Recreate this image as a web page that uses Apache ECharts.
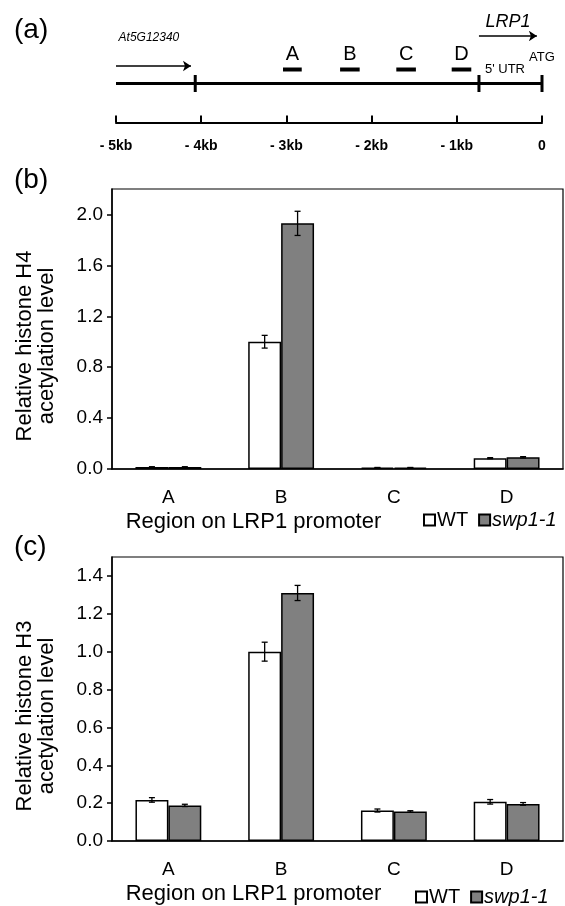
<!DOCTYPE html>
<html>
<head>
<meta charset="utf-8">
<script src="https://cdn.jsdelivr.net/npm/echarts@6/dist/echarts.min.js"></script>
<style>
  html, body { margin: 0; padding: 0; background: #fff; }
  #chart { width: 565px; height: 906px; }
</style>
</head>
<body>
<div id="chart"></div>
<script>
// (a) promoter map, kb relative to the LRP1 ATG
const scaleTicksKb = [-5, -4, -3, -2, -1, 0];
const scaleLabels = ['- 5kb', '- 4kb', '- 3kb', '- 2kb', '- 1kb', '0'];
const regionNames = ['A', 'B', 'C', 'D'];
const regionStartKb = [-3.04, -2.37, -1.71, -1.06];
const regionEndKb = [-2.82, -2.14, -1.48, -0.83];
const boundaryKb = [-4.07, -0.74, 0];
const upstreamGeneKb = [-5, -4.12];
const lrp1ArrowKb = [-0.74, -0.06];

// (b) H4 and (c) H3 acetylation
const categories = ['A', 'B', 'C', 'D'];
const h4Wt = [0.015, 1.0, 0.01, 0.085];
const h4WtErr = [0.003, 0.05, 0.002, 0.004];
const h4Swp = [0.015, 1.93, 0.01, 0.092];
const h4SwpErr = [0.003, 0.095, 0.002, 0.005];
const h3Wt = [0.217, 1.0, 0.161, 0.207];
const h3WtErr = [0.012, 0.05, 0.008, 0.012];
const h3Swp = [0.188, 1.31, 0.156, 0.196];
const h3SwpErr = [0.006, 0.04, 0.004, 0.007];

const FONT = "'Liberation Sans', Arial, sans-serif";
const BAR_FRAC = 0.292;
// vertical track levels in the map panel
const LV = { line: 0.39, region: 0.53, regionLabel: 0.685, geneArrow: 0.565, geneLabel: 0.845,
             lrpArrow: 0.865, lrpLabel: 1.01, utr: 0.53, atg: 0.65 };

const chart = echarts.init(document.getElementById('chart'));

function errRows(vals, errs, slot) {
  return vals.map((v, i) => [i, v, errs[i], slot]);
}

function errorBarItem(params, api) {
  const i = api.value(0), v = api.value(1), e = api.value(2), slot = api.value(3);
  const band = api.size([1, 0])[0];
  const dx = (slot === 0 ? -1 : 1) * band * BAR_FRAC / 2;
  const top = api.coord([i, v + e]);
  const bot = api.coord([i, v - e]);
  const x = top[0] + dx;
  const st = { stroke: '#000', lineWidth: 1.3 };
  return {
    type: 'group',
    children: [
      { type: 'line', shape: { x1: x, y1: top[1], x2: x, y2: bot[1] }, style: st },
      { type: 'line', shape: { x1: x - 3, y1: top[1], x2: x + 3, y2: top[1] }, style: st },
      { type: 'line', shape: { x1: x - 3, y1: bot[1], x2: x + 3, y2: bot[1] }, style: st }
    ]
  };
}

function textItem(txt, kb, level, opts) {
  return Object.assign({ txt: txt, kb: kb, level: level }, opts);
}

const mapTexts = [
  textItem('At5G12340', upstreamGeneKb[0] + 0.03, LV.geneLabel, { size: 12, italic: true, align: 'left' }),
  textItem('LRP1', (lrp1ArrowKb[0] + lrp1ArrowKb[1]) / 2, LV.lrpLabel, { size: 18, italic: true, align: 'center' }),
  textItem("5' UTR", boundaryKb[1] + 0.07, LV.utr, { size: 13, italic: false, align: 'left' }),
  textItem('ATG', boundaryKb[2], LV.atg, { size: 13, italic: false, align: 'center' })
];

function barAxisX(gi) {
  return {
    type: 'category', gridIndex: gi, data: categories,
    axisLine: { lineStyle: { color: '#000', width: 1.5 } },
    axisTick: { length: 6, lineStyle: { color: '#000', width: 1.5 } },
    axisLabel: { color: '#000', fontSize: 19, fontFamily: FONT, margin: 19 },
    name: 'Region on LRP1 promoter', nameLocation: 'middle', nameGap: 42,
    nameTextStyle: { color: '#000', fontSize: 22, fontFamily: FONT, padding: [0, 168, 0, 0] }
  };
}

function barAxisY(gi, max, interval, name) {
  return {
    type: 'value', gridIndex: gi, min: 0, max: max, interval: interval,
    splitLine: { show: false },
    axisLine: { show: true, lineStyle: { color: '#000', width: 1.5 } },
    axisTick: { show: true, length: 5, lineStyle: { color: '#000', width: 1.5 } },
    axisLabel: { color: '#000', fontSize: 19, fontFamily: FONT, margin: 9, showMaxLabel: false,
                 formatter: v => v.toFixed(1) },
    name: name, nameLocation: 'middle', nameRotate: 90, nameGap: 54,
    nameTextStyle: { color: '#000', fontSize: 22, lineHeight: 22, fontFamily: FONT, padding: [0, 34, 0, 0] }
  };
}

const wtStyle = { color: '#fff', borderColor: '#000', borderWidth: 1.5 };
const swpStyle = { color: '#808080', borderColor: '#000', borderWidth: 1.5 };

function legendAt(left, top) {
  return {
    left: left, top: top, orient: 'horizontal', icon: 'rect',
    itemWidth: 11, itemHeight: 11, itemGap: 10,
    data: ['WT', 'swp1-1'],
    formatter: n => n === 'swp1-1' ? '{i|swp1-1}' : n,
    textStyle: { color: '#000', fontSize: 20, fontFamily: FONT, padding: [0, 0, 0, -3],
                 rich: { i: { fontStyle: 'italic', fontSize: 20, fontFamily: FONT } } }
  };
}

chart.setOption({
  animation: false,
  backgroundColor: '#fff',
  graphic: [
    { type: 'text', left: 14, top: 16, style: { text: '(a)', fontSize: 28, fontFamily: FONT, fill: '#000' } },
    { type: 'text', left: 14, top: 166, style: { text: '(b)', fontSize: 28, fontFamily: FONT, fill: '#000' } },
    { type: 'text', left: 14, top: 533, style: { text: '(c)', fontSize: 28, fontFamily: FONT, fill: '#000' } }
  ],
  legend: [legendAt(418, 505), legendAt(410, 882)],
  grid: [
    { left: 112, right: 2, top: 189, height: 280, show: true, borderColor: '#000', borderWidth: 1.2 },
    { left: 112, right: 2, top: 557, height: 286, show: true, borderColor: '#000', borderWidth: 1.2 },
    { left: 116, right: 23, top: 12.5, height: 110 }
  ],
  xAxis: [
    barAxisX(0),
    barAxisX(1),
    {
      type: 'value', gridIndex: 2, min: -5, max: 0, interval: 1,
      splitLine: { show: false },
      axisLine: { lineStyle: { color: '#000', width: 2 } },
      axisTick: { inside: true, length: 7, lineStyle: { color: '#000', width: 2 } },
      axisLabel: { color: '#000', fontSize: 14, fontWeight: 'bold', fontFamily: FONT, margin: 17,
                   formatter: v => scaleLabels[scaleTicksKb.indexOf(v)] }
    }
  ],
  yAxis: [
    barAxisY(0, 2.2, 0.4, 'Relative histone H4\nacetylation level'),
    barAxisY(1, 1.5, 0.2, 'Relative histone H3\nacetylation level'),
    { type: 'value', gridIndex: 2, min: 0, max: 1.1, show: false }
  ],
  series: [
    { name: 'WT', type: 'bar', xAxisIndex: 0, yAxisIndex: 0, data: h4Wt, barWidth: '29.2%', barGap: '0%', itemStyle: wtStyle },
    { name: 'swp1-1', type: 'bar', xAxisIndex: 0, yAxisIndex: 0, data: h4Swp, barWidth: '29.2%', barGap: '0%', itemStyle: swpStyle },
    { name: 'WT', type: 'bar', xAxisIndex: 1, yAxisIndex: 1, data: h3Wt, barWidth: '29.2%', barGap: '0%', itemStyle: wtStyle },
    { name: 'swp1-1', type: 'bar', xAxisIndex: 1, yAxisIndex: 1, data: h3Swp, barWidth: '29.2%', barGap: '0%', itemStyle: swpStyle },
    { type: 'custom', xAxisIndex: 0, yAxisIndex: 0, z: 5, renderItem: errorBarItem,
      encode: { x: 0, y: 1 }, data: errRows(h4Wt, h4WtErr, 0).concat(errRows(h4Swp, h4SwpErr, 1)) },
    { type: 'custom', xAxisIndex: 1, yAxisIndex: 1, z: 5, renderItem: errorBarItem,
      encode: { x: 0, y: 1 }, data: errRows(h3Wt, h3WtErr, 0).concat(errRows(h3Swp, h3SwpErr, 1)) },

    // (a) map
    { type: 'line', xAxisIndex: 2, yAxisIndex: 2, symbol: 'none', silent: true,
      lineStyle: { color: '#000', width: 3 },
      data: [[scaleTicksKb[0], LV.line], [scaleTicksKb[scaleTicksKb.length - 1], LV.line]] },
    { type: 'custom', xAxisIndex: 2, yAxisIndex: 2, silent: true, encode: { x: 0 },
      data: boundaryKb.map(k => [k]),
      renderItem: (params, api) => {
        const p = api.coord([api.value(0), LV.line]);
        return { type: 'rect', shape: { x: p[0] - 1.5, y: p[1] - 8.5, width: 3, height: 17 }, style: { fill: '#000' } };
      } },
    { type: 'custom', xAxisIndex: 2, yAxisIndex: 2, silent: true, encode: { x: [0, 1] },
      data: regionNames.map((n, i) => [regionStartKb[i], regionEndKb[i], n]),
      renderItem: (params, api) => {
        const a = api.coord([api.value(0), LV.region]);
        const b = api.coord([api.value(1), LV.region]);
        const t = api.coord([(api.value(0) + api.value(1)) / 2, LV.regionLabel]);
        return { type: 'group', children: [
          { type: 'rect', shape: { x: a[0], y: a[1] - 2, width: b[0] - a[0], height: 4 }, style: { fill: '#000' } },
          { type: 'text', x: t[0], y: t[1], style: { text: regionNames[params.dataIndex], fontSize: 20, fontFamily: FONT,
            fill: '#000', align: 'center', verticalAlign: 'middle' } }
        ] };
      } },
    { type: 'lines', coordinateSystem: 'cartesian2d', xAxisIndex: 2, yAxisIndex: 2, silent: true,
      symbol: ['none', 'arrow'], symbolSize: 8,
      lineStyle: { color: '#000', width: 1.5, opacity: 1 },
      data: [
        { coords: [[upstreamGeneKb[0], LV.geneArrow], [upstreamGeneKb[1], LV.geneArrow]] },
        { coords: [[lrp1ArrowKb[0], LV.lrpArrow], [lrp1ArrowKb[1], LV.lrpArrow]] }
      ] },
    { type: 'custom', xAxisIndex: 2, yAxisIndex: 2, silent: true, encode: { x: 0 },
      data: mapTexts.map(t => [t.kb, t.level]),
      renderItem: (params, api) => {
        const t = mapTexts[params.dataIndex];
        const p = api.coord([t.kb, t.level]);
        return { type: 'text', x: p[0], y: p[1], style: { text: t.txt, fontSize: t.size, fontFamily: FONT,
          fontStyle: t.italic ? 'italic' : 'normal', fill: '#000', align: t.align, verticalAlign: 'middle' } };
      } }
  ]
});
</script>
</body>
</html>
